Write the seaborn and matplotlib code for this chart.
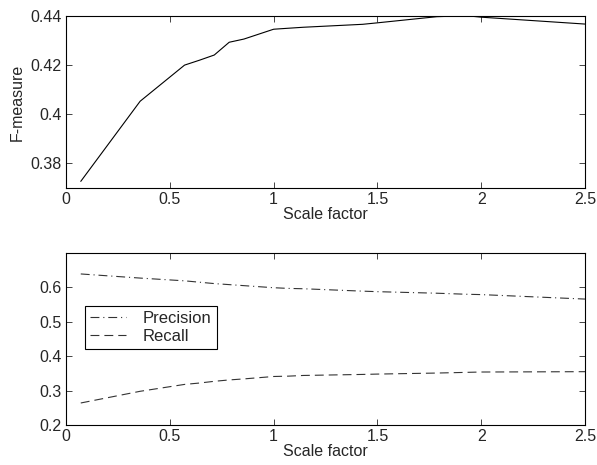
import matplotlib
matplotlib.use("Agg")
import matplotlib.pyplot as plt
import seaborn as sns
import pandas as pd
from matplotlib.ticker import FuncFormatter

scale = [0.071, 0.357, 0.571, 0.643, 0.714, 0.786, 0.857, 1.0, 1.071, 1.143,
         1.429, 1.5, 1.786, 1.929, 2.0, 2.5]
fmeasure = [0.3727, 0.4053, 0.4200, 0.4220, 0.4241, 0.4293, 0.4306, 0.4346, 0.4350, 0.4354,
            0.4366, 0.4372, 0.4397, 0.4401, 0.4395, 0.4367]
precision = [0.639, 0.627, 0.619, 0.615, 0.611, 0.608, 0.605, 0.599, 0.597, 0.596,
             0.589, 0.5875, 0.583, 0.580, 0.579, 0.566]
recall = [0.264, 0.298, 0.318, 0.322, 0.327, 0.331, 0.334, 0.341, 0.342, 0.344,
          0.347, 0.348, 0.351, 0.353, 0.354, 0.355]

sns.set_style("ticks")
plt.rcParams["font.family"] = ["Liberation Sans", "DejaVu Sans"]
FS = 11.5
plt.rcParams["font.size"] = FS

fig = plt.figure(figsize=(5.97, 4.65), dpi=100)
ax1 = fig.add_axes([0.1106, 0.5957, 0.8693, 0.370])
ax2 = fig.add_axes([0.1106, 0.086, 0.8693, 0.370])

fmt = FuncFormatter(lambda v, p: "%g" % round(v, 4))

df1 = pd.DataFrame({"Scale factor": scale, "F-measure": fmeasure})
sns.lineplot(data=df1, x="Scale factor", y="F-measure", ax=ax1, color="black", lw=0.8)
ax1.set_xlim(0, 2.5)
ax1.set_ylim(0.37, 0.44)
ax1.set_yticks([0.38, 0.40, 0.42, 0.44])
ax1.set_xticks([0, 0.5, 1, 1.5, 2, 2.5])

df2 = pd.DataFrame({"Scale factor": scale * 2,
                    "value": precision + recall,
                    "series": ["Precision"] * len(scale) + ["Recall"] * len(scale)})
sns.lineplot(data=df2, x="Scale factor", y="value", hue="series", style="series",
             palette={"Precision": "#333333", "Recall": "#333333"},
             dashes={"Precision": (8, 3.5, 1, 3.5), "Recall": (8, 4.5)}, lw=0.8, ax=ax2)
ax2.set_xlim(0, 2.5)
ax2.set_ylim(0.2, 0.7)
ax2.set_yticks([0.2, 0.3, 0.4, 0.5, 0.6])
ax2.set_xticks([0, 0.5, 1, 1.5, 2, 2.5])
ax2.set_ylabel("")
leg = ax2.legend(loc="upper left", bbox_to_anchor=(0.036, 0.69), frameon=True,
                 fancybox=False, edgecolor="black", framealpha=1, fontsize=FS + 0.5,
                 handlelength=2.2, handletextpad=1.0, borderpad=0.3, labelspacing=0.15,
                 borderaxespad=0)
leg.get_frame().set_linewidth(0.8)

for ax in (ax1, ax2):
    ax.xaxis.set_major_formatter(fmt)
    ax.yaxis.set_major_formatter(fmt)
    ax.tick_params(direction="in", top=True, right=True, length=4, width=0.6,
                   labelsize=FS, pad=3)
    for s in ax.spines.values():
        s.set_visible(True)
        s.set_linewidth(0.8)
        s.set_color("black")
    ax.set_xlabel("Scale factor", fontsize=FS, labelpad=0)

ax1.set_ylabel("F-measure", fontsize=FS, labelpad=4)

fig.savefig("out.png", dpi=100)
